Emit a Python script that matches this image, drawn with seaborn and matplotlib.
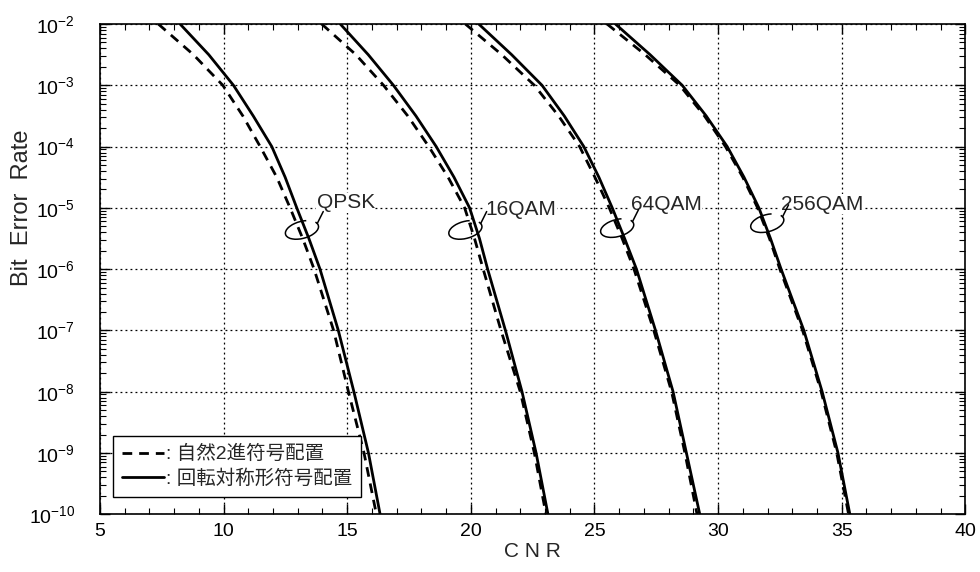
import numpy as np
import pandas as pd
import matplotlib
matplotlib.use("Agg")
import matplotlib.pyplot as plt
import matplotlib.transforms as mtransforms
from matplotlib.patches import Arc
from matplotlib.lines import Line2D
from matplotlib.ticker import LogLocator, MultipleLocator, NullFormatter
import seaborn as sns

# BER の指数 (10^-2 ... 10^-10)
ber_exp = [-2, -2.5, -3, -3.5, -4, -4.5, -5, -5.5, -6, -7, -8, -9, -10]
decades = [-10, -9, -8, -7, -6, -5, -4, -3, -2]

# 図から読み取った CNR [dB]
qpsk_natural = [7.36, 8.78, 9.97, 10.78, 11.48, 12.15, 12.69, 13.20, 13.66, 14.45, 15.05, 15.68, 16.18]
qpsk_rotated = [8.24, 9.40, 10.40, 11.20, 11.95, 12.49, 12.96, 13.45, 13.90, 14.64, 15.27, 15.86, 16.33]
qam16_natural = [13.97, 15.35, 16.47, 17.45, 18.30, 19.08, 19.75, 20.15, 20.50, 21.22, 22.00, 22.57, 23.04]
qam16_rotated = [14.72, 15.85, 16.87, 17.78, 18.60, 19.32, 19.95, 20.35, 20.68, 21.40, 22.07, 22.64, 23.12]
qam64_natural = [19.78, 21.25, 22.57, 23.55, 24.40, 25.02, 25.60, 26.12, 26.60, 27.40, 28.12, 28.66, 29.15]
qam64_rotated = [20.32, 21.65, 22.88, 23.78, 24.57, 25.18, 25.72, 26.22, 26.70, 27.47, 28.18, 28.72, 29.26]
qam256_natural = [25.51, 27.05, 28.45, 29.45, 30.30, 31.00, 31.60, 32.08, 32.50, 33.42, 34.17, 34.80, 35.28]
qam256_rotated = [25.85, 27.25, 28.55, 29.52, 30.37, 31.05, 31.65, 32.12, 32.55, 33.47, 34.21, 34.85, 35.33]

mod_names = ["QPSK", "16QAM", "64QAM", "256QAM"]
natural = [qpsk_natural, qam16_natural, qam64_natural, qam256_natural]
rotated = [qpsk_rotated, qam16_rotated, qam64_rotated, qam256_rotated]

legend_labels = [": 自然2進符号配置", ": 回転対称形符号配置"]

# ラベル位置 (CNR, BER 指数) とループ位置
label_pos = [(13.77, -4.92), (20.59, -5.02), (26.46, -4.94), (32.53, -4.94)]
loop_pos = [(13.17, -5.36), (19.78, -5.36), (25.92, -5.33), (31.99, -5.25)]

rows = []
for name, nat, rot in zip(mod_names, natural, rotated):
    for e, x in zip(ber_exp, nat):
        rows.append((name, "natural", name + "_n", x, 10.0 ** e))
    for e, x in zip(ber_exp, rot):
        rows.append((name, "rotated", name + "_r", x, 10.0 ** e))
df = pd.DataFrame(rows, columns=["mod", "mapping", "unit", "cnr", "ber"])

sns.set_style("ticks")
plt.rcParams["font.family"] = ["Liberation Sans", "Noto Sans CJK JP", "DejaVu Sans"]
plt.rcParams["mathtext.default"] = "regular"

fig = plt.figure(figsize=(9.8, 5.72), dpi=100)
ax = fig.add_axes([0.102, 0.101, 0.883, 0.857])

dash_n = (3.5, 2.5)
sns.lineplot(data=df, x="cnr", y="ber", units="unit", style="mapping",
             dashes={"natural": dash_n, "rotated": ""}, estimator=None,
             color="k", lw=2, sort=False, legend=False, ax=ax)

ax.set_yscale("log")
ax.set_xlim(5, 40)
ax.set_ylim(1e-10, 1e-2)
ax.xaxis.set_major_locator(MultipleLocator(5))
ax.xaxis.set_minor_locator(MultipleLocator(1))
ax.set_yticks([10.0 ** e for e in decades])
ax.set_yticklabels([r"$10^{%d}$" % e for e in decades])
ax.yaxis.set_minor_locator(LogLocator(base=10, subs=np.arange(2, 10), numticks=20))
ax.yaxis.set_minor_formatter(NullFormatter())
ax.set_ylim(1e-10, 1e-2)

ax.grid(True, which="major", color="k", linestyle=(0, (1.5, 2.5)), lw=0.9)
ax.tick_params(which="both", direction="in", top=True, right=True, colors="k",
               labelsize=14)
ax.tick_params(which="major", length=7, width=1)
ax.tick_params(which="minor", length=4, width=0.8)
ax.yaxis.set_tick_params(which="major", pad=18)
ax.xaxis.set_tick_params(which="major", pad=6)
for s in ax.spines.values():
    s.set_color("k")
    s.set_linewidth(1.2)

ax.set_xlabel("C N R", fontsize=15, labelpad=2)
ax.set_ylabel("Bit  Error  Rate", fontsize=17)
ax.yaxis.set_label_coords(-0.0775, 0.626)

# 変調方式のラベルとループ
for name, (lx, le), (cx, ce) in zip(mod_names, label_pos, loop_pos):
    ax.text(lx, 10.0 ** le, name, fontsize=15, va="center", ha="left",
            bbox=dict(fc="white", ec="none", pad=0.3), zorder=5)
    trans = fig.dpi_scale_trans + mtransforms.ScaledTranslation(cx, 10.0 ** ce, ax.transData)
    ax.add_patch(Arc((0, 0), 0.34, 0.17, angle=15, theta1=50, theta2=375,
                     transform=trans, color="k", lw=1.1, zorder=6))
    t = np.deg2rad(15)
    px, py = 0.17 * np.cos(t), 0.085 * np.sin(t)
    r = np.deg2rad(15)
    x0 = px * np.cos(r) - py * np.sin(r)
    y0 = px * np.sin(r) + py * np.cos(r)
    ax.add_line(Line2D([x0, x0 + 0.06], [y0, y0 + 0.12], transform=trans,
                       color="k", lw=1.1, zorder=6))

handles = [Line2D([], [], color="k", lw=2, dashes=dash_n),
           Line2D([], [], color="k", lw=2)]
leg = ax.legend(handles, legend_labels, loc="lower left", bbox_to_anchor=(0.015, 0.036),
                borderaxespad=0, fancybox=False, framealpha=1, edgecolor="k",
                fontsize=14, handlelength=2.2, handletextpad=0.1, labelspacing=0.3,
                borderpad=0.45)
leg.get_frame().set_linewidth(1.0)

fig.savefig("out.png", dpi=100)
